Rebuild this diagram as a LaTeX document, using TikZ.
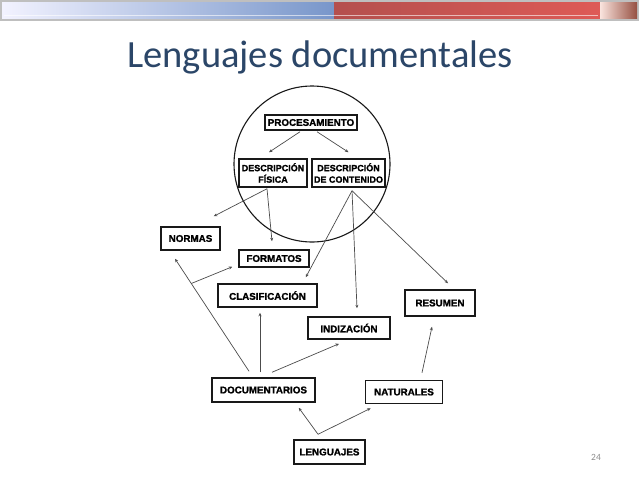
\documentclass[tikz,border=0pt]{standalone}
\usepackage{fontspec}
\setmainfont{Liberation Sans}
\newfontfamily\titlefont{Carlito}
\newfontfamily\boxfont{Liberation Sans}[BoldFeatures={FakeBold=1.4}]
\usetikzlibrary{calc,arrows.meta}
\definecolor{titleblue}{HTML}{2B4668}
\begin{document}
\begin{tikzpicture}[x=1pt,y=-1pt,
  box/.style={draw=black!90,line width=1.5pt,fill=white,inner sep=0pt,align=center,
    font=\boxfont\bfseries\fontsize{9.8}{11}\selectfont},
  smallbox/.style={box,font=\boxfont\bfseries\fontsize{9}{11.5}\selectfont},
  arr/.style={draw=black!70,line width=0.7pt,-{Stealth[length=3.5pt,width=3pt]}}]
\useasboundingbox (0,0) rectangle (639,480);
\fill[white] (0,0) rectangle (639,480);
% top bar
\fill[black!25] (0,0) rectangle (639,21);
\shade[left color=blue!5!white,right color={rgb,255:red,120;green,150;blue,202}] (2,2) rectangle (334,18);
\shade[left color={rgb,255:red,180;green,80;blue,78},right color={rgb,255:red,222;green,90;blue,86}] (334,2) rectangle (600,18);
\shade[left color={rgb,255:red,250;green,228;blue,222},right color={rgb,255:red,150;green,80;blue,66}] (600,2) rectangle (637,18);
\draw[white,opacity=0.6,line width=0.8pt] (4,15.5) -- (598,15.5);
% title
\node[anchor=base,text=titleblue,font=\titlefont\fontsize{38.5}{40}\selectfont,inner sep=0] (title) at (320,67) {Lenguajes documentales};
% circle
\node[draw=black!90,line width=1.1pt,circle,minimum size=156pt,inner sep=0] (circ) at (312,164) {};
% nodes
\node[box,minimum width=92pt,minimum height=15pt] (proc) at (311,122.5) {PROCESAMIENTO};
\node[smallbox,minimum width=68pt,minimum height=28pt] (dfis) at (273,173) {DESCRIPCIÓN\\FÍSICA};
\node[smallbox,minimum width=73pt,minimum height=28pt] (dcon) at (348.5,173) {DESCRIPCIÓN\\DE CONTENIDO};
\node[box,minimum width=59pt,minimum height=23pt] (normas) at (190.5,238.5) {NORMAS};
\node[box,minimum width=70pt,minimum height=17pt] (form) at (274,258.5) {FORMATOS};
\node[box,minimum width=99pt,minimum height=23pt] (clas) at (267.5,295.5) {CLASIFICACIÓN};
\node[box,minimum width=70pt,minimum height=26pt] (res) at (440,303) {RESUMEN};
\node[box,minimum width=82pt,minimum height=22pt] (indiz) at (349,328) {INDIZACIÓN};
\node[box,minimum width=103pt,minimum height=24pt] (doc) at (263.5,390) {DOCUMENTARIOS};
\node[box,minimum width=77pt,minimum height=23pt] (nat) at (404,392) {NATURALES};
\node[box,minimum width=71pt,minimum height=24pt] (leng) at (329.5,452) {LENGUAJES};
% connectors
\draw[arr] ($(proc.south)+(-11,1)$) -- ($(dfis.north)+(-4,-6)$);
\draw[arr] ($(proc.south)+(6,1)$) -- ($(dcon.north)+(0,-6)$);
\coordinate (p1) at ($(dfis.south)+(-6,1)$);
\draw[arr] (p1) -- ($(normas.north east)+(-7,-10)$);
\draw[arr] (p1) -- ($(form.north)+(-2,-8)$);
\coordinate (p2) at ($(dcon.south)+(3.5,3)$);
\draw[arr] (p2) -- ($(clas.north east)+(-12,-6)$);
\draw[arr] (p2) -- ($(indiz.north)+(8,-8)$);
\draw[arr] (p2) -- ($(res.north)+(8,-6)$);
\coordinate (p3) at ($(leng.north)+(-11.5,-5)$);
\draw[arr] (p3) -- ($(doc.south east)+(-17,5)$);
\draw[arr] (p3) -- ($(nat.south west)+(6,4)$);
\draw[arr] ($(nat.north)+(18,-7)$) -- ($(res.south)+(-8,10)$);
\draw[arr] ($(doc.north)+(8.5,-5)$) -- ($(indiz.south)+(-10,4)$);
\draw[arr] ($(doc.north)+(-3.5,-5)$) -- ($(clas.south)+(-7.5,5)$);
\draw[arr] ($(doc.north)+(-14.5,-6)$) -- coordinate[pos=0.78] (br) ($(normas.south)+(-15.5,8)$);
\draw[arr] (br) -- ($(form.south west)+(-6,-1)$);
% page number
\node[text=black!45,font=\titlefont\fontsize{9.5}{10}\selectfont] (pg) at (596,457) {24};
\end{tikzpicture}
\end{document}
